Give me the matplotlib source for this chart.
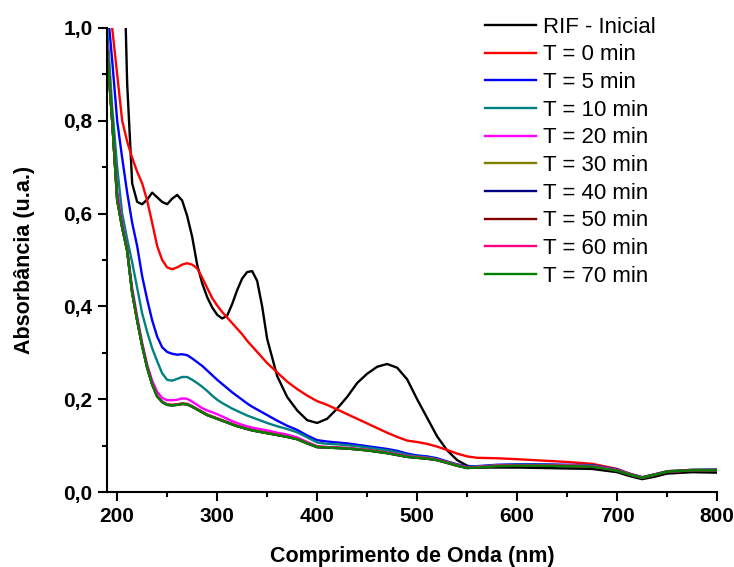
import matplotlib
matplotlib.use("Agg")
import matplotlib.pyplot as plt
from matplotlib.ticker import MultipleLocator, FuncFormatter

# wavelength grid (nm)
wavelength = [190, 195, 200, 205, 210, 215, 220, 225, 230, 235, 240, 245, 250, 255, 260,
              265, 270, 275, 280, 285, 290, 295, 300, 305, 310, 315, 320, 325, 330, 335,
              340, 345, 350, 360, 370, 380, 390, 400, 410, 420, 430, 440, 450, 460, 470,
              480, 490, 500, 510, 520, 530, 540, 550, 560, 580, 600, 625, 650, 675, 700,
              712, 725, 737, 750, 775, 800]

rif_inicial = [2.0, 1.8, 1.6, 1.3, 0.88, 0.665, 0.625, 0.62, 0.63, 0.645, 0.635, 0.625, 0.62, 0.632, 0.64,
               0.628, 0.595, 0.55, 0.49, 0.45, 0.42, 0.398, 0.382, 0.374, 0.38, 0.405, 0.435, 0.46, 0.474, 0.476,
               0.455, 0.40, 0.33, 0.25, 0.205, 0.176, 0.155, 0.149, 0.158, 0.18, 0.205, 0.235, 0.255, 0.27, 0.276,
               0.268, 0.243, 0.20, 0.16, 0.12, 0.09, 0.069, 0.057, 0.053, 0.053, 0.053, 0.052, 0.051, 0.05, 0.043,
               0.035, 0.028, 0.033, 0.04, 0.043, 0.042]

t0 = [1.2, 1.0, 0.90, 0.80, 0.755, 0.72, 0.69, 0.665, 0.628, 0.58, 0.53, 0.50, 0.484, 0.48, 0.484,
      0.49, 0.493, 0.49, 0.482, 0.462, 0.44, 0.418, 0.402, 0.388, 0.376, 0.364, 0.352, 0.34, 0.326, 0.314,
      0.302, 0.29, 0.278, 0.258, 0.238, 0.222, 0.208, 0.196, 0.188, 0.178, 0.168, 0.158, 0.148, 0.138, 0.128,
      0.119, 0.111, 0.108, 0.104, 0.098, 0.091, 0.083, 0.077, 0.074, 0.073, 0.071, 0.068, 0.065, 0.061, 0.05,
      0.04, 0.032, 0.038, 0.044, 0.047, 0.047]

t5 = [1.05, 0.93, 0.80, 0.72, 0.645, 0.58, 0.53, 0.465, 0.415, 0.37, 0.335, 0.312, 0.302, 0.298, 0.296,
      0.297, 0.295, 0.288, 0.28, 0.272, 0.262, 0.252, 0.242, 0.233, 0.224, 0.215, 0.207, 0.199, 0.191, 0.184,
      0.178, 0.172, 0.166, 0.154, 0.143, 0.134, 0.122, 0.112, 0.109, 0.107, 0.105, 0.102, 0.099, 0.096, 0.093,
      0.089, 0.083, 0.079, 0.077, 0.073, 0.066, 0.06, 0.055, 0.056, 0.059, 0.06, 0.06, 0.059, 0.058, 0.049,
      0.04, 0.032, 0.038, 0.045, 0.048, 0.049]

t10 = [1.0, 0.83, 0.70, 0.60, 0.545, 0.495, 0.44, 0.385, 0.345, 0.31, 0.282, 0.256, 0.242, 0.24, 0.244,
       0.248, 0.248, 0.242, 0.235, 0.227, 0.218, 0.208, 0.199, 0.192, 0.186, 0.18, 0.175, 0.17, 0.165, 0.161,
       0.157, 0.153, 0.149, 0.142, 0.136, 0.129, 0.118, 0.107, 0.104, 0.103, 0.101, 0.099, 0.096, 0.093, 0.09,
       0.086, 0.08, 0.077, 0.075, 0.071, 0.065, 0.059, 0.054, 0.055, 0.058, 0.059, 0.059, 0.058, 0.057, 0.048,
       0.04, 0.032, 0.038, 0.045, 0.048, 0.048]

t20 = [0.97, 0.80, 0.65, 0.58, 0.525, 0.44, 0.378, 0.322, 0.275, 0.24, 0.216, 0.203, 0.198, 0.198, 0.199,
       0.202, 0.201, 0.195, 0.188, 0.181, 0.176, 0.172, 0.168, 0.163, 0.158, 0.153, 0.149, 0.145, 0.142, 0.139,
       0.137, 0.135, 0.133, 0.128, 0.124, 0.118, 0.108, 0.099, 0.097, 0.096, 0.095, 0.093, 0.091, 0.088, 0.085,
       0.082, 0.077, 0.075, 0.073, 0.07, 0.064, 0.058, 0.053, 0.054, 0.057, 0.058, 0.058, 0.057, 0.056, 0.047,
       0.039, 0.031, 0.037, 0.044, 0.047, 0.047]

t30 = [0.95, 0.80, 0.63, 0.57, 0.52, 0.43, 0.37, 0.316, 0.269, 0.233, 0.207, 0.195, 0.189, 0.188, 0.189,
       0.191, 0.19, 0.185, 0.179, 0.173, 0.167, 0.163, 0.159, 0.155, 0.151, 0.147, 0.143, 0.14, 0.137, 0.134,
       0.132, 0.13, 0.128, 0.124, 0.12, 0.115, 0.106, 0.098, 0.097, 0.096, 0.095, 0.093, 0.091, 0.088, 0.085,
       0.081, 0.077, 0.075, 0.073, 0.07, 0.064, 0.058, 0.053, 0.054, 0.057, 0.058, 0.058, 0.057, 0.056, 0.047,
       0.039, 0.031, 0.037, 0.045, 0.048, 0.048]

t40 = [0.95, 0.80, 0.63, 0.57, 0.52, 0.43, 0.37, 0.315, 0.268, 0.232, 0.206, 0.194, 0.188, 0.187, 0.188,
       0.19, 0.189, 0.184, 0.178, 0.172, 0.166, 0.162, 0.158, 0.154, 0.15, 0.146, 0.142, 0.139, 0.136, 0.133,
       0.131, 0.129, 0.127, 0.123, 0.119, 0.114, 0.105, 0.097, 0.096, 0.095, 0.094, 0.092, 0.09, 0.087, 0.084,
       0.08, 0.076, 0.074, 0.072, 0.069, 0.063, 0.057, 0.052, 0.053, 0.056, 0.057, 0.057, 0.056, 0.055, 0.046,
       0.038, 0.031, 0.037, 0.044, 0.047, 0.047]

t50 = [0.95, 0.80, 0.63, 0.57, 0.52, 0.43, 0.37, 0.315, 0.268, 0.232, 0.206, 0.194, 0.188, 0.187, 0.188,
       0.19, 0.189, 0.184, 0.178, 0.172, 0.166, 0.162, 0.158, 0.154, 0.15, 0.146, 0.142, 0.139, 0.136, 0.133,
       0.131, 0.129, 0.127, 0.123, 0.119, 0.114, 0.105, 0.097, 0.096, 0.095, 0.094, 0.092, 0.09, 0.087, 0.084,
       0.08, 0.076, 0.074, 0.072, 0.069, 0.063, 0.057, 0.052, 0.053, 0.056, 0.057, 0.057, 0.056, 0.055, 0.046,
       0.038, 0.031, 0.037, 0.044, 0.047, 0.047]

t60 = [0.95, 0.80, 0.63, 0.57, 0.52, 0.43, 0.37, 0.316, 0.269, 0.233, 0.207, 0.195, 0.189, 0.188, 0.189,
       0.191, 0.19, 0.185, 0.179, 0.173, 0.167, 0.163, 0.159, 0.155, 0.151, 0.147, 0.143, 0.14, 0.137, 0.134,
       0.132, 0.13, 0.128, 0.124, 0.12, 0.115, 0.106, 0.098, 0.097, 0.096, 0.095, 0.093, 0.091, 0.088, 0.085,
       0.081, 0.077, 0.075, 0.073, 0.07, 0.064, 0.058, 0.053, 0.054, 0.057, 0.058, 0.058, 0.057, 0.056, 0.047,
       0.039, 0.031, 0.037, 0.044, 0.047, 0.047]

t70 = [0.95, 0.80, 0.63, 0.57, 0.52, 0.43, 0.37, 0.315, 0.268, 0.232, 0.206, 0.194, 0.188, 0.187, 0.188,
       0.19, 0.189, 0.184, 0.178, 0.172, 0.166, 0.162, 0.158, 0.154, 0.15, 0.146, 0.142, 0.139, 0.136, 0.133,
       0.131, 0.129, 0.127, 0.123, 0.119, 0.114, 0.105, 0.097, 0.096, 0.095, 0.094, 0.092, 0.09, 0.087, 0.084,
       0.08, 0.076, 0.074, 0.072, 0.069, 0.063, 0.057, 0.052, 0.053, 0.056, 0.057, 0.057, 0.056, 0.055, 0.046,
       0.038, 0.031, 0.037, 0.044, 0.047, 0.047]

series_labels = ["RIF - Inicial", "T = 0 min", "T = 5 min", "T = 10 min", "T = 20 min",
                 "T = 30 min", "T = 40 min", "T = 50 min", "T = 60 min", "T = 70 min"]
series_colors = ["#000000", "#FF0000", "#0000FF", "#008080", "#FF00FF",
                 "#808000", "#000080", "#800000", "#FF0080", "#008000"]
series_values = [rif_inicial, t0, t5, t10, t20, t30, t40, t50, t60, t70]

plt.rcParams["font.family"] = ["Liberation Sans", "DejaVu Sans"]

fig = plt.figure(figsize=(7.34, 5.67), dpi=100)
ax = fig.add_axes([0.146, 0.132, 0.831, 0.819])

for vals, lab, col in zip(series_values, series_labels, series_colors):
    ax.plot(wavelength, vals, color=col, lw=1.7, label=lab)

ax.set_xlim(190, 800)
ax.set_ylim(0, 1.0)
ax.xaxis.set_major_locator(MultipleLocator(100))
ax.xaxis.set_minor_locator(MultipleLocator(50))
ax.yaxis.set_major_locator(MultipleLocator(0.2))
ax.yaxis.set_minor_locator(MultipleLocator(0.1))
ax.yaxis.set_major_formatter(FuncFormatter(lambda v, p: f"{v:.1f}".replace(".", ",")))

for s in ("top", "right"):
    ax.spines[s].set_visible(False)
for s in ("left", "bottom"):
    ax.spines[s].set_linewidth(1.5)

ax.tick_params(which="major", direction="out", length=6.5, width=1.5, labelsize=15, pad=4)
ax.tick_params(which="minor", direction="out", length=3.5, width=1.5)
for t in ax.get_xticklabels() + ax.get_yticklabels():
    t.set_fontweight("bold")

ax.set_xlabel("Comprimento de Onda (nm)", fontsize=15.5, fontweight="bold")
ax.set_ylabel("Absorbância (u.a.)", fontsize=15.5, fontweight="bold")
ax.xaxis.set_label_coords(0.5, -0.117)
ax.yaxis.set_label_coords(-0.118, 0.5)

ax.legend(loc="upper left", bbox_to_anchor=(0.605, 1.043), frameon=False, fontsize=16,
          handlelength=2.3, handletextpad=0.3, labelspacing=0.3, borderaxespad=0)

fig.savefig("out.png", dpi=100)
